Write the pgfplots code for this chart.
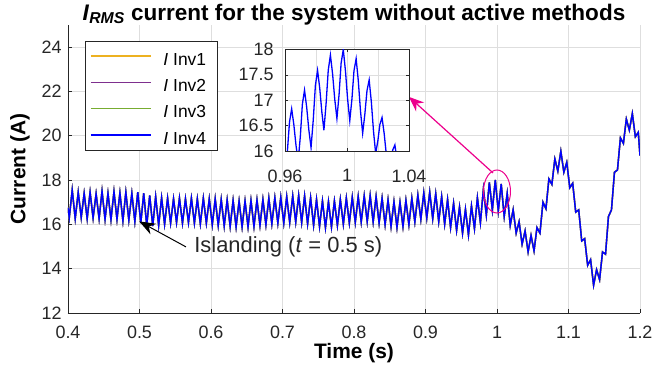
\documentclass[border=0pt]{standalone}
\usepackage{fontspec}
\setmainfont{Liberation Sans}
\usepackage{pgfplots}
\pgfplotsset{compat=1.18}
\usepackage{pgfplotstable}
\usetikzlibrary{arrows.meta}

\definecolor{axgray}{RGB}{38,38,38}
\definecolor{gridgray}{RGB}{222,222,222}
\definecolor{invA}{rgb}{0.929,0.694,0.125}
\definecolor{invB}{rgb}{0.494,0.184,0.556}
\definecolor{invC}{rgb}{0.466,0.674,0.188}

% RMS current, troughs and peaks of the 120 Hz ripple
\pgfplotstableread{
x y
0.4000 16.75
0.4018 16.30
0.4059 17.55
0.4101 16.25
0.4143 17.45
0.4185 16.30
0.4226 17.40
0.4268 16.25
0.4309 17.45
0.4351 16.28
0.4393 17.38
0.4435 16.25
0.4476 17.50
0.4518 16.22
0.4559 17.40
0.4601 16.20
0.4643 17.48
0.4685 16.22
0.4726 17.42
0.4768 16.15
0.4809 17.45
0.4851 16.18
0.4893 17.40
0.4935 16.12
0.4976 17.45
0.5018 16.05
0.5059 17.40
0.5101 15.95
0.5143 17.30
0.5185 15.92
0.5226 17.25
0.5268 15.95
0.5309 17.20
0.5351 16.00
0.5393 17.18
0.5435 16.05
0.5476 17.15
0.5518 16.08
0.5559 17.18
0.5601 16.05
0.5643 17.15
0.5685 16.08
0.5726 17.18
0.5768 16.05
0.5809 17.15
0.5851 16.02
0.5893 17.18
0.5935 16.05
0.5976 17.15
0.6018 15.98
0.6059 17.15
0.6101 15.95
0.6143 17.12
0.6185 15.92
0.6226 17.10
0.6268 15.90
0.6309 17.08
0.6351 15.88
0.6393 17.05
0.6435 15.88
0.6476 17.05
0.6518 15.88
0.6559 17.08
0.6601 15.90
0.6643 17.10
0.6685 15.95
0.6726 17.12
0.6768 15.98
0.6809 17.18
0.6851 16.02
0.6893 17.20
0.6935 16.05
0.6976 17.22
0.7018 16.05
0.7059 17.25
0.7101 16.08
0.7143 17.28
0.7185 16.10
0.7226 17.30
0.7268 16.08
0.7309 17.28
0.7351 16.02
0.7393 17.20
0.7435 15.95
0.7476 17.12
0.7518 15.90
0.7559 17.05
0.7601 15.85
0.7643 17.02
0.7685 15.88
0.7726 17.05
0.7768 15.95
0.7809 17.12
0.7851 16.00
0.7893 17.18
0.7935 16.05
0.7976 17.22
0.8018 16.08
0.8059 17.25
0.8101 16.10
0.8143 17.28
0.8185 16.12
0.8226 17.30
0.8268 16.10
0.8309 17.25
0.8351 16.05
0.8393 17.18
0.8435 15.98
0.8476 17.10
0.8518 15.90
0.8559 17.02
0.8601 15.85
0.8643 17.00
0.8685 15.90
0.8726 17.08
0.8768 15.98
0.8809 17.18
0.8851 16.10
0.8893 17.32
0.8935 16.22
0.8976 17.42
0.9018 16.28
0.9059 17.45
0.9101 16.25
0.9143 17.38
0.9185 16.12
0.9226 17.25
0.9268 16.00
0.9309 17.12
0.9351 15.85
0.9393 16.95
0.9435 15.72
0.9476 16.78
0.9518 15.60
0.9559 16.68
0.9601 15.52
0.9643 16.83
0.9685 15.80
0.9726 17.20
0.9768 16.07
0.9810 17.59
0.9851 16.41
0.9893 17.89
0.9935 16.64
0.9976 18.00
1.0018 16.60
1.0059 17.82
1.0101 16.35
1.0143 17.40
1.0185 15.95
1.0226 16.66
1.0268 15.60
1.0309 16.12
1.0351 15.10
1.0393 15.70
1.0435 14.75
1.0476 15.50
1.0518 14.80
1.0559 15.85
1.0601 15.60
1.0643 17.00
1.0685 16.70
1.0726 18.05
1.0768 17.80
1.0809 18.95
1.0851 18.40
1.0893 19.30
1.0935 18.35
1.0976 18.80
1.1018 17.65
1.1059 17.85
1.1101 16.55
1.1143 16.65
1.1185 15.25
1.1226 15.35
1.1268 14.15
1.1309 14.40
1.1351 13.25
1.1393 13.95
1.1435 13.50
1.1476 14.75
1.1518 14.65
1.1559 16.35
1.1601 16.65
1.1643 18.35
1.1685 18.45
1.1726 19.90
1.1768 19.65
1.1809 20.75
1.1851 20.25
1.1893 21.00
1.1935 19.95
1.1976 20.15
1.2000 19.10
}\mainrms

% finer sampling around t = 1 s for the zoomed view
\pgfplotstableread{
x y
0.9559 16.68
0.9573 16.33
0.9587 15.87
0.9601 15.52
0.9615 15.98
0.9629 16.57
0.9643 16.83
0.9657 16.52
0.9671 16.11
0.9685 15.80
0.9699 16.29
0.9712 16.92
0.9726 17.20
0.9740 16.86
0.9754 16.41
0.9768 16.07
0.9782 16.60
0.9796 17.29
0.9810 17.59
0.9824 17.24
0.9838 16.76
0.9851 16.41
0.9865 16.93
0.9879 17.59
0.9893 17.89
0.9907 17.52
0.9921 17.02
0.9935 16.64
0.9949 17.12
0.9962 17.73
0.9976 18.00
0.9990 17.58
1.0004 17.02
1.0018 16.60
1.0032 17.03
1.0045 17.58
1.0059 17.82
1.0073 17.38
1.0087 16.79
1.0101 16.35
1.0115 16.72
1.0129 17.19
1.0143 17.40
1.0157 16.97
1.0171 16.39
1.0185 15.95
1.0199 16.20
1.0212 16.52
1.0226 16.66
1.0240 16.34
1.0254 15.92
1.0268 15.60
1.0282 15.78
1.0295 16.02
1.0309 16.12
1.0323 15.81
1.0337 15.41
1.0351 15.10
1.0365 15.31
1.0379 15.58
1.0393 15.70
1.0407 15.42
1.0421 15.04
1.0435 14.75
}\insetrms

\begin{document}
\begin{tikzpicture}
\useasboundingbox (-68bp,-58.1bp) rectangle (588bp,312.9bp);
\begin{axis}[
  name=main,
  at={(0bp,0bp)}, anchor=south west,
  width=572bp, height=288bp, scale only axis,
  xmin=0.4, xmax=1.2, ymin=12, ymax=25,
  xtick={0.4,0.5,0.6,0.7,0.8,0.9,1,1.1,1.2},
  ytick={12,14,16,18,20,22,24},
  axis x line*=bottom, axis y line*=left,
  axis line style={axgray, line width=0.7bp},
  grid=major, grid style={gridgray, line width=0.6bp},
  tick align=inside, major tick length=4bp,
  tick style={axgray, line width=0.6bp},
  tick label style={font=\fontsize{18}{18}\selectfont, text=axgray},
  /pgf/number format/assume math mode=true,
  xticklabel style={yshift=-9.5bp},
  yticklabel style={xshift=-3bp},
  every axis title shift=0pt,
  title={\textit{I}\textsubscript{\textit{RMS}} current for the system without active methods},
  title style={at={(axis description cs:0.5,1.017)}, anchor=base,
    font=\fontsize{22.6}{22.6}\selectfont\bfseries},
  xlabel={Time (s)},
  xlabel style={at={(axis description cs:0.5,-0.16)}, anchor=base,
    font=\fontsize{21}{21}\selectfont\bfseries},
  ylabel={Current (A)},
  ylabel style={at={(axis description cs:-0.0839,0.5)}, anchor=center,
    font=\fontsize{21}{21}\selectfont\bfseries},
  legend cell align=left,
  legend style={at={(axis description cs:0.0297,0.945)}, anchor=north west,
    fill=white, draw=axgray,
    font=\fontsize{17.5}{17.5}\selectfont,
    inner xsep=5bp, inner ysep=2bp, row sep=0bp, column sep=11.7bp,
    nodes={inner sep=0pt, text height=22.3bp, text depth=4bp}},
  legend image code/.code={\draw[mark repeat=2, mark phase=2, #1]
    plot coordinates {(0bp,0bp) (30bp,0bp) (60bp,0bp)};},
  legend image post style={line width=1.6bp},
]
\addplot[invA, line width=1.4bp] table {\mainrms};
\addlegendentry{\makebox[49bp][l]{\textit{I} Inv1}}
\addplot[invB, line width=1.4bp] table {\mainrms};
\addlegendentry{\makebox[49bp][l]{\textit{I} Inv2}}
\addplot[invC, line width=1.4bp] table {\mainrms};
\addlegendentry{\makebox[49bp][l]{\textit{I} Inv3}}
\addplot[blue, line width=1.4bp] table {\mainrms};
\addlegendentry{\makebox[49bp][l]{\textit{I} Inv4}}

\draw[magenta, line width=1bp] (axis cs:1.0,17.48) ellipse [x radius=13.5bp, y radius=21.5bp];
\draw[magenta, line width=1.2bp, -{Stealth[length=15bp,width=12bp]}]
  (axis cs:0.9944,18.32) -- (axis cs:0.8769,21.75);
\draw[black, line width=1bp, -{Stealth[length=16bp,width=12bp]}]
  (axis cs:0.565,14.98) -- (axis cs:0.4997,16.13);
\node[anchor=west, inner sep=0pt, font=\fontsize{22}{22}\selectfont, text=axgray]
  at (axis cs:0.5765,14.98) {Islanding (\textit{t} = 0.5 s)};
\end{axis}

\begin{axis}[
  at={(217bp,161.9bp)}, anchor=south west,
  width=124bp, height=101.5bp, scale only axis,
  xmin=0.96, xmax=1.04, ymin=16, ymax=18,
  xtick={0.96,1,1.04}, minor xtick={0.98,1.02},
  ytick={16,16.5,17,17.5,18},
  grid=both, grid style={gridgray, line width=0.6bp},
  minor grid style={gridgray, line width=0.6bp},
  axis background/.style={fill=white},
  axis line style={axgray, line width=0.8bp},
  tick align=inside, major tick length=3bp, minor tick length=0bp,
  tick style={axgray, line width=0.6bp},
  tick label style={font=\fontsize{18}{18}\selectfont, text=axgray},
  /pgf/number format/assume math mode=true,
  xticklabel style={yshift=-15bp},
  yticklabel style={xshift=-8bp},
]
\addplot[blue, line width=1.3bp] table {\insetrms};
\end{axis}
\end{tikzpicture}
\end{document}
